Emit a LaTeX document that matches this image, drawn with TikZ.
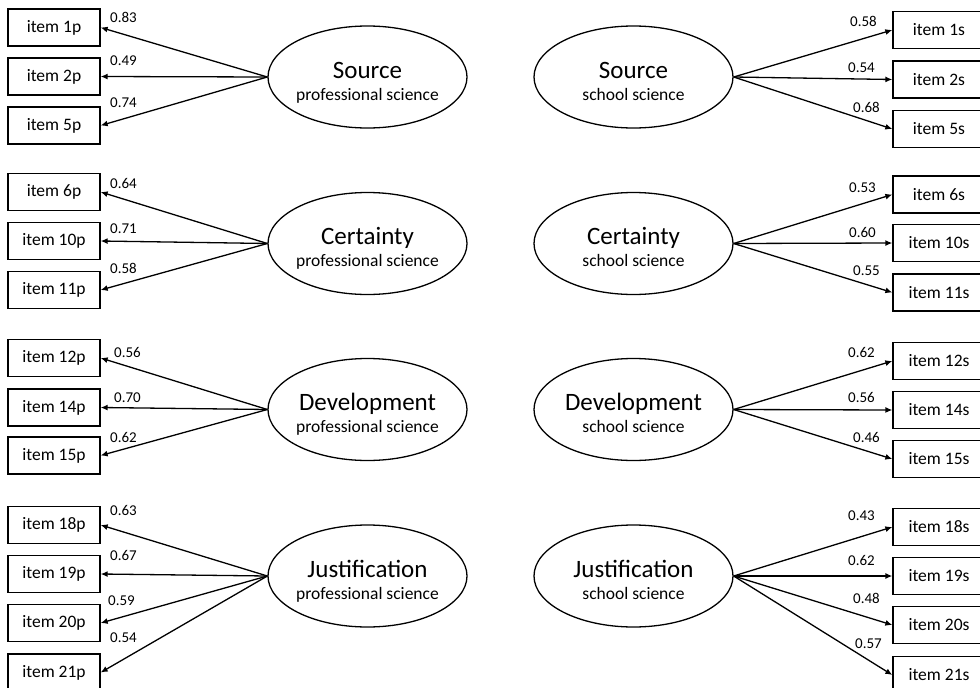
\documentclass[tikz,border=0pt]{standalone}
\usepackage{fontspec}
\setmainfont{Carlito}
\usetikzlibrary{shapes.geometric,arrows.meta,calc}
\tikzset{
  itembox/.style={draw,line width=1.3pt,minimum width=92pt,minimum height=37pt,inner sep=0pt,font=\fontsize{17.5}{20}\selectfont},
  latent/.style={draw,ellipse,line width=1.3pt,minimum width=199pt,minimum height=102pt,inner sep=0pt},
  ttl/.style={anchor=base,inner sep=0pt,font=\fontsize{25}{28}\selectfont},
  sub/.style={anchor=base,inner sep=0pt,font=\fontsize{17.5}{20}\selectfont},
  lbl/.style={anchor=base west,inner sep=0pt,font=\fontsize{15}{18}\selectfont},
  arr/.style={line width=1.3pt,-{Latex[length=7pt,width=6pt]}},
}
\begin{document}
\begin{tikzpicture}[x=1pt,y=-1pt]
\clip (0,0) rectangle (980,688);
\fill[white] (0,0) rectangle (980,688);
% ---------------- latent variables
\node[latent] (Sp) at (367.5,77) {};
\node[latent] (Cp) at (367.5,243.5) {};
\node[latent] (Dp) at (367.5,409.5) {};
\node[latent] (Jp) at (367.5,576) {};
\node[latent] (Ss) at (633.5,77) {};
\node[latent] (Cs) at (633.5,243.5) {};
\node[latent] (Ds) at (633.5,409.5) {};
\node[latent] (Js) at (633.5,576) {};
% titles
\node[ttl] (tSp) at ($(Sp)+(0,1)$) {Source};
\node[sub] (uSp) at ($(Sp)+(0,23)$) {professional science};
\node[ttl] (tCp) at ($(Cp)+(0,1)$) {Certainty};
\node[sub] (uCp) at ($(Cp)+(0,23)$) {professional science};
\node[ttl] (tDp) at ($(Dp)+(0,1)$) {Development};
\node[sub] (uDp) at ($(Dp)+(0,23)$) {professional science};
\node[ttl] (tJp) at ($(Jp)+(0,1)$) {Justification};
\node[sub] (uJp) at ($(Jp)+(0,23)$) {professional science};
\node[ttl] (tSs) at ($(Ss)+(0,1)$) {Source};
\node[sub] (uSs) at ($(Ss)+(0,23)$) {school science};
\node[ttl] (tCs) at ($(Cs)+(0,1)$) {Certainty};
\node[sub] (uCs) at ($(Cs)+(0,23)$) {school science};
\node[ttl] (tDs) at ($(Ds)+(0,1)$) {Development};
\node[sub] (uDs) at ($(Ds)+(0,23)$) {school science};
\node[ttl] (tJs) at ($(Js)+(0,1)$) {Justification};
\node[sub] (uJs) at ($(Js)+(0,23)$) {school science};
% ---------------- left items
\node[itembox] (p1) at (54,27.5) {item 1p};
\node[itembox] (p2) at (54,76.5) {item 2p};
\node[itembox] (p5) at (54,125.5) {item 5p};
\node[itembox] (p6) at (54,192) {item 6p};
\node[itembox] (p10) at (54,241) {item 10p};
\node[itembox] (p11) at (54,290) {item 11p};
\node[itembox] (p12) at (54,358) {item 12p};
\node[itembox] (p14) at (54,407.5) {item 14p};
\node[itembox] (p15) at (54,455.5) {item 15p};
\node[itembox] (p18) at (54,525) {item 18p};
\node[itembox] (p19) at (54,574) {item 19p};
\node[itembox] (p20) at (54,623) {item 20p};
\node[itembox] (p21) at (54,672.5) {item 21p};
% ---------------- right items
\node[itembox] (s1) at (939,30) {item 1s};
\node[itembox] (s2) at (939,79.5) {item 2s};
\node[itembox] (s5) at (939,129) {item 5s};
\node[itembox] (s6) at (939,194.5) {item 6s};
\node[itembox] (s10) at (939,243) {item 10s};
\node[itembox] (s11) at (939,292.5) {item 11s};
\node[itembox] (s12) at (939,361) {item 12s};
\node[itembox] (s14) at (939,410) {item 14s};
\node[itembox] (s15) at (939,459) {item 15s};
\node[itembox] (s18) at (939,527) {item 18s};
\node[itembox] (s19) at (939,576) {item 19s};
\node[itembox] (s20) at (939,625) {item 20s};
\node[itembox] (s21) at (939,675) {item 21s};
% ---------------- arrows
\foreach \l/\i in {Sp/p1,Sp/p2,Sp/p5,Cp/p6,Cp/p10,Cp/p11,Dp/p12,Dp/p14,Dp/p15,Jp/p18,Jp/p19,Jp/p20,Jp/p21}
  \draw[arr] (\l.west) -- (\i.east);
\foreach \l/\i in {Ss/s1,Ss/s2,Ss/s5,Cs/s6,Cs/s10,Cs/s11,Ds/s12,Ds/s14,Ds/s15,Js/s18,Js/s19,Js/s20,Js/s21}
  \draw[arr] (\l.east) -- (\i.west);
% ---------------- loadings left
\node[lbl] (a1) at (110,22) {0.83};
\node[lbl] (a2) at (110,65) {0.49};
\node[lbl] (a5) at (110,107) {0.74};
\node[lbl] (a6) at (110,188) {0.64};
\node[lbl] (a10) at (110,233) {0.71};
\node[lbl] (a11) at (110,273) {0.58};
\node[lbl] (a12) at (114,357) {0.56};
\node[lbl] (a14) at (114,402) {0.70};
\node[lbl] (a15) at (110,442) {0.62};
\node[lbl] (a18) at (110,515) {0.63};
\node[lbl] (a19) at (110,560) {0.67};
\node[lbl] (a20) at (108,605) {0.59};
\node[lbl] (a21) at (110,642) {0.54};
% ---------------- loadings right
\node[lbl] (b1) at (850,27) {0.58};
\node[lbl] (b2) at (848,72) {0.54};
\node[lbl] (b5) at (853,112) {0.68};
\node[lbl] (b6) at (849,192) {0.53};
\node[lbl] (b10) at (849,237) {0.60};
\node[lbl] (b11) at (853,275) {0.55};
\node[lbl] (b12) at (848,357) {0.62};
\node[lbl] (b14) at (848,402) {0.56};
\node[lbl] (b15) at (853,442) {0.46};
\node[lbl] (b18) at (848,520) {0.43};
\node[lbl] (b19) at (848,565) {0.62};
\node[lbl] (b20) at (853,603) {0.48};
\node[lbl] (b21) at (855,648) {0.57};
\end{tikzpicture}
\end{document}
